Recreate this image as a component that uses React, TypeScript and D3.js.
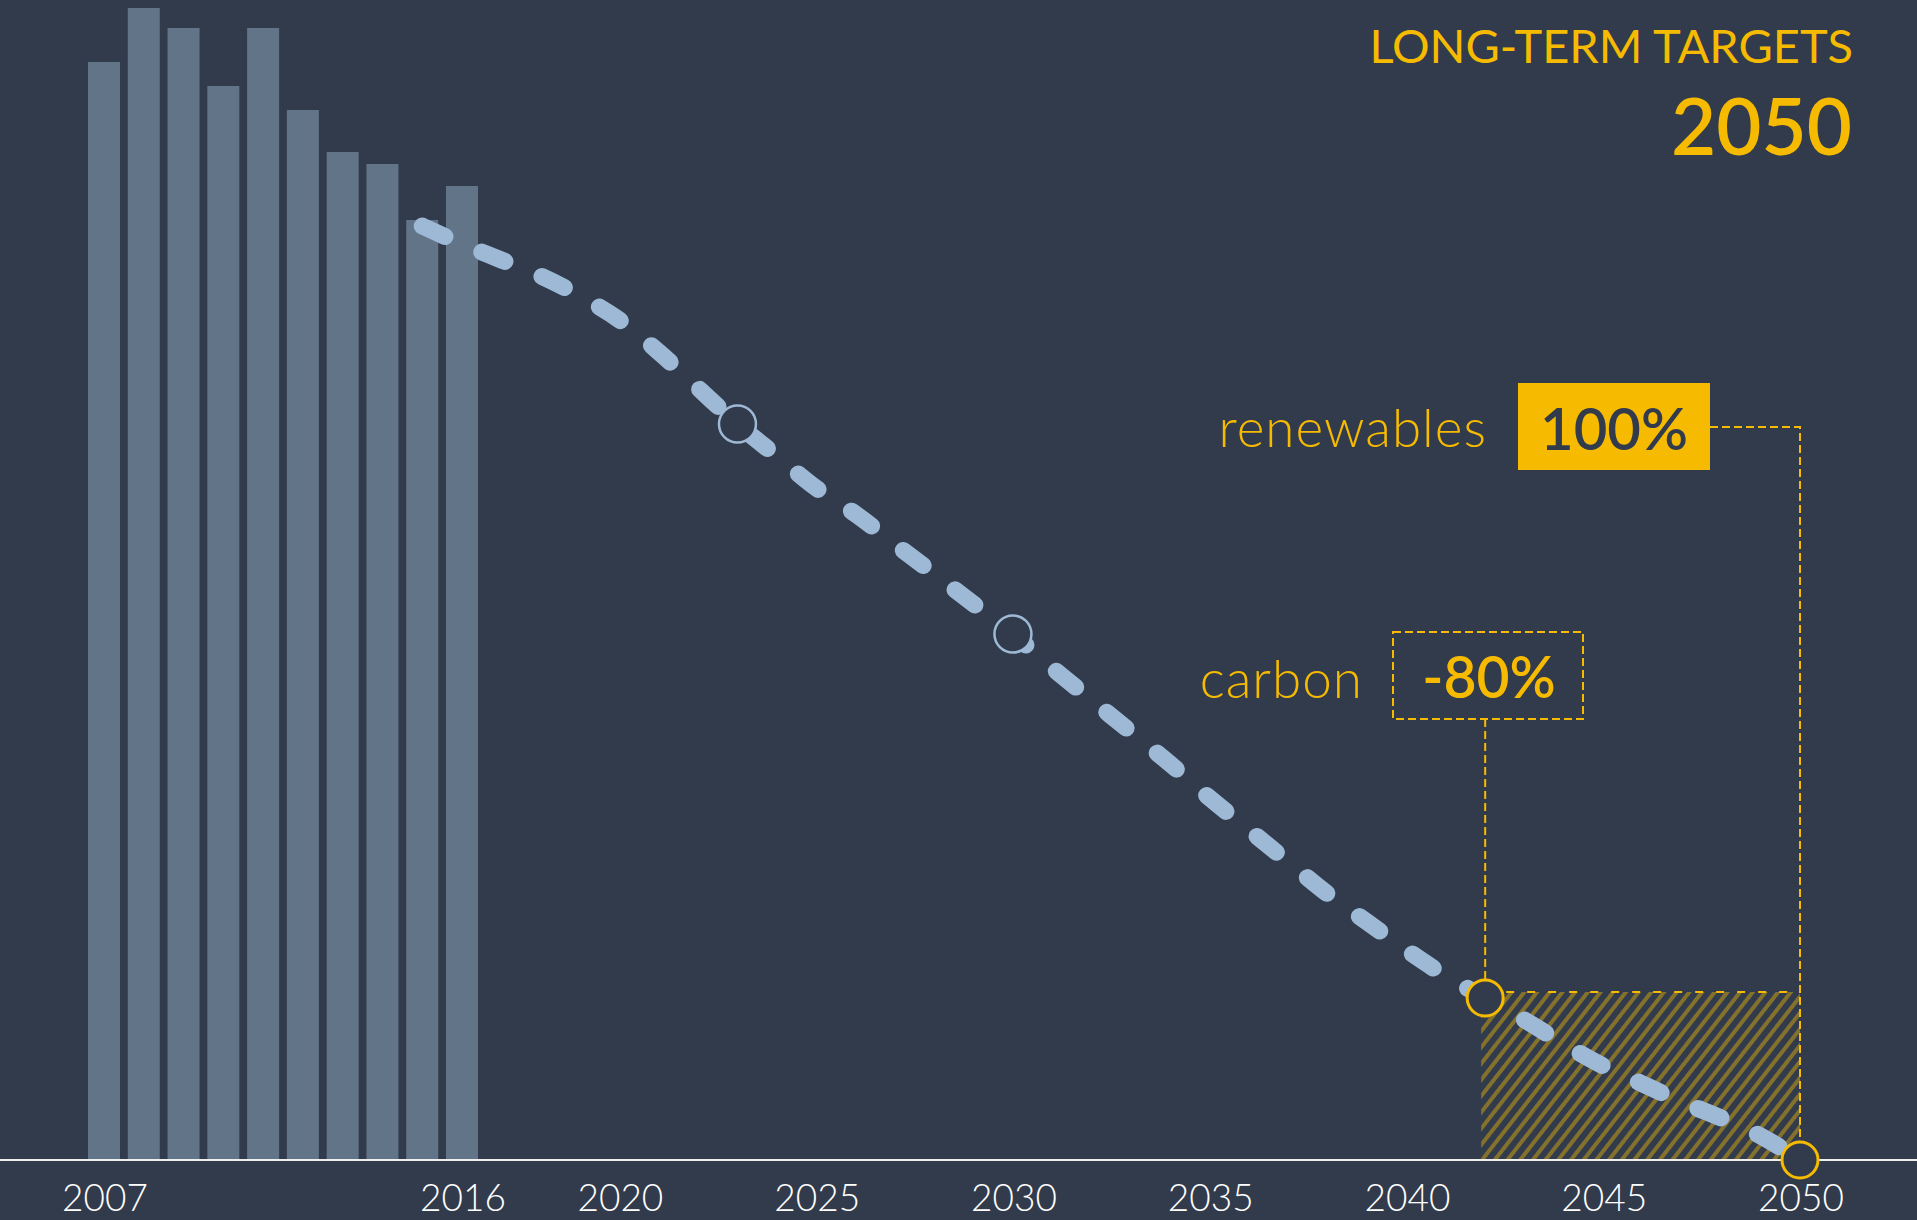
import React from 'react';
import * as d3 from 'd3';

// historical emissions (bars) and projected pathway (dashed line)
const barYears = [2007, 2008, 2009, 2010, 2011, 2012, 2013, 2014, 2015, 2016];
const barValues = [549, 576, 566, 537, 566, 525, 504, 498, 470, 487];

const pathYears = [2015, 2016, 2017, 2018, 2019, 2020, 2021, 2022, 2023, 2024, 2025, 2026, 2027, 2028, 2029, 2030, 2031, 2032, 2033, 2034, 2035, 2036, 2037, 2038, 2039, 2040, 2041, 2042, 2043, 2044, 2045, 2046, 2047, 2048, 2049, 2050];
const pathValues = [467, 458, 450, 442, 432, 420, 404, 386, 368, 352, 336, 323, 308, 293, 278, 263, 246, 230, 214, 198, 181, 165, 149, 133, 119, 105, 92, 81, 70, 58, 47, 38, 29, 21, 12, 0];

const milestoneYears = [2023, 2030];
const targetYears = [2042, 2050];
const hatchTop = 84;

const tickYears = [2007, 2016, 2020, 2025, 2030, 2035, 2040, 2045, 2050];

const W = 1917;
const H = 1220;
const BG = '#323b4b';
const BAR = '#627487';
const LINE = '#9db9d5';
const YEL = '#f6bb00';
const FONT = 'Lato, "Open Sans", sans-serif';

const App: React.FC = () => {
  const x = d3.scaleLinear().domain([2007, 2016, 2050]).range([104, 462, 1800]);
  const y = d3.scaleLinear().domain([0, 580]).range([1160, 0]);
  const base = y(0);

  const pts: [number, number][] = pathYears.map((yr, i) => [yr, pathValues[i]]);
  const line = d3.line<[number, number]>()
    .x(d => x(d[0]))
    .y(d => y(d[1]))
    .curve(d3.curveMonotoneX);

  const valueAt = (yr: number) => pathValues[pathYears.indexOf(yr)];

  const cx42 = x(targetYears[0]);
  const cx50 = x(targetYears[1]);

  return (
    <svg width={W} height={H} style={{ position: 'absolute', left: 0, top: 0, display: 'block' }}>
      <defs>
        <pattern id="hatch" width="10" height="10" patternUnits="userSpaceOnUse" patternTransform="rotate(38)">
          <rect x="0" y="0" width="4" height="10" fill={YEL} fillOpacity="0.42" />
        </pattern>
      </defs>
      <rect width={W} height={H} fill={BG} />

      {barYears.map((yr, i) => (
        <rect key={yr} x={x(yr) - 16} y={y(barValues[i])} width={32} height={base - y(barValues[i])} fill={BAR} />
      ))}

      <rect x={cx42 - 4} y={y(hatchTop)} width={cx50 - cx42 + 4} height={base - y(hatchTop)} fill="url(#hatch)" />
      <line x1={cx42} x2={cx50} y1={y(hatchTop)} y2={y(hatchTop)} stroke={YEL} strokeWidth={2} strokeDasharray="8 13" />

      <line x1={0} x2={W} y1={base} y2={base} stroke="#eeeeee" strokeWidth={2} />

      {/* renewables connector */}
      <polyline points={`1710,427 ${cx50},427 ${cx50},${base}`} fill="none" stroke={YEL} strokeWidth={2} strokeDasharray="8 4" />
      {/* carbon connector */}
      <line x1={cx42} x2={cx42} y1={719} y2={y(valueAt(2042))} stroke={YEL} strokeWidth={2} strokeDasharray="8 4" />

      <path d={line(pts) || ''} fill="none" stroke={LINE} strokeWidth={17} strokeLinecap="round" strokeDasharray="25 40" />

      {milestoneYears.map(yr => (
        <circle key={yr} cx={x(yr)} cy={y(valueAt(yr))} r={18.5} fill={BG} stroke={LINE} strokeWidth={2.5} />
      ))}
      {targetYears.map(yr => (
        <circle key={yr} cx={x(yr)} cy={y(valueAt(yr))} r={18} fill={BG} stroke={YEL} strokeWidth={3} />
      ))}

      {tickYears.map(yr => (
        <text key={yr} x={x(yr) + 1} y={1211} textAnchor="middle" fill="#ffffff" fontFamily={FONT} fontWeight={300} fontSize={37}>
          {yr}
        </text>
      ))}

      <text x={1853} y={63} textAnchor="end" fill={YEL} fontFamily={FONT} fontWeight={400} fontSize={47}>LONG-TERM TARGETS</text>
      <text x={1852} y={155} textAnchor="end" fill={YEL} fontFamily={FONT} fontWeight={600} fontSize={78}>2050</text>

      <text x={1487} y={447} textAnchor="end" fill={YEL} fontFamily={FONT} fontWeight={300} fontSize={53} letterSpacing={1}>renewables</text>
      <rect x={1518} y={383} width={192} height={87} fill={YEL} />
      <text x={1614} y={450} textAnchor="middle" fill={BG} fontFamily={FONT} fontWeight={600} fontSize={58}>100%</text>

      <text x={1363} y={698} textAnchor="end" fill={YEL} fontFamily={FONT} fontWeight={300} fontSize={53} letterSpacing={1}>carbon</text>
      <rect x={1393} y={632} width={190} height={87} fill="none" stroke={YEL} strokeWidth={2} strokeDasharray="8 4" />
      <text x={1489} y={698} textAnchor="middle" fill={YEL} fontFamily={FONT} fontWeight={600} fontSize={57}>-80%</text>
    </svg>
  );
};

export default App;
